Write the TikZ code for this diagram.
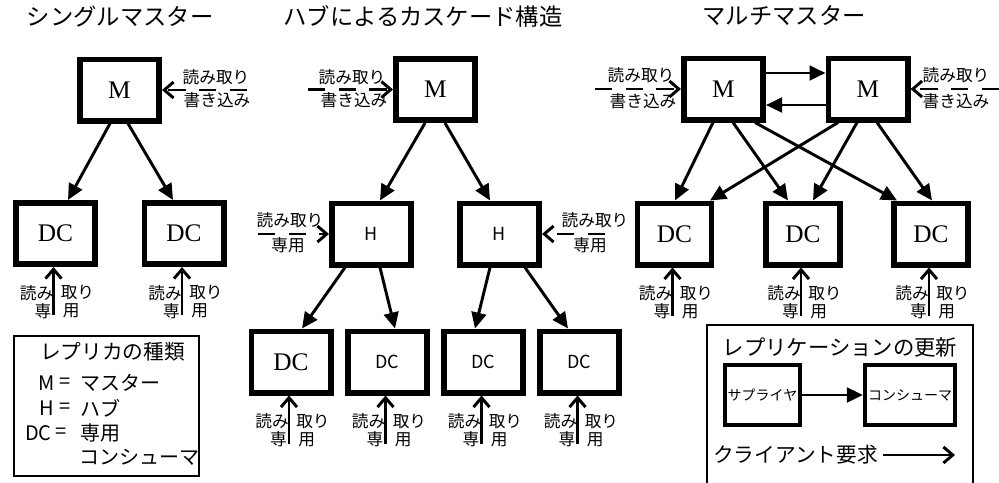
\documentclass[tikz,border=0pt]{standalone}
\usepackage{fontspec}
\newfontfamily\jp{Noto Sans CJK JP}
\newfontfamily\serf{Liberation Serif}
\usetikzlibrary{arrows.meta,calc}
\begin{document}
\begin{tikzpicture}[x=0.75pt,y=-0.75pt,
 bx/.style={draw,line width=4.25pt,minimum width=59.5pt,minimum height=46pt,inner sep=0pt},
 nbx/.style={bx,minimum width=55.5pt},
 ser/.style={font=\serf\fontsize{19}{21}\selectfont},
 ssf/.style={font=\jp\fontsize{13.5}{15}\selectfont},
 ttl/.style={font=\jp\fontsize{17.5}{20}\selectfont,inner sep=0pt},
 lbl/.style={font=\jp\fontsize{12.5}{14}\selectfont,inner sep=0pt},
 leg/.style={font=\jp\fontsize{15}{18}\selectfont,inner sep=0pt},
 sm/.style={font=\jp\fontsize{10.5}{12}\selectfont},
 rep/.style={line width=2.2pt,-{Triangle[length=12pt,width=11pt]}},
 cli/.style={line width=2.2pt,-{Straight Barb[length=7pt,width=12pt]}},
 dcli/.style={cli,dash pattern=on 13pt off 10pt},
]
\useasboundingbox (0,0) rectangle (999,482);

% titles
\node[ttl] (t1) at (120,17) {シングルマスター};
\node[ttl] (t2) at (423,16) {ハブによるカスケード構造};
\node[ttl] (t3) at (784,16) {マルチマスター};

% single master
\node[bx,ser] (sM) at (119.5,90) {M};
\node[bx,ser] (sD1) at (55.5,233.5) {DC};
\node[bx,ser] (sD2) at (184,233.5) {DC};
\draw[rep] ($(sM.south)+(-9.5,0)$) -- ($(sD1.north)+(12.5,0)$);
\draw[rep] ($(sM.south)+(8.5,0)$) -- ($(sD2.north)+(-11,0)$);
\coordinate (sMr) at (247,90);
\draw[dcli] (sMr) -- (sM.east);
\node[lbl] (sMt1) at (216,77) {読み取り};
\node[lbl] (sMt2) at (217,100) {書き込み};

% hub cascade
\node[bx,ser] (hM) at (435.5,89.5) {M};
\node[bx,ssf] (hH1) at (371.5,234) {H};
\node[bx,ssf] (hH2) at (499.5,234) {H};
\node[bx,ser] (hD1) at (291,362) {DC};
\node[bx,ssf] (hD2) at (387.5,362) {DC};
\node[bx,ssf] (hD3) at (483.5,362) {DC};
\node[bx,ssf] (hD4) at (579.5,362) {DC};
\draw[rep] ($(hM.south)+(-10.5,0)$) -- ($(hH1.north)+(8.5,0)$);
\draw[rep] ($(hM.south)+(9.5,0)$) -- ($(hH2.north)+(-9.5,0)$);
\draw[rep] ($(hH1.south)+(-26.5,0)$) -- ($(hD1.north)+(11,0)$);
\draw[rep] ($(hH1.south)+(8.5,0)$) -- ($(hD2.north)+(7.5,0)$);
\draw[rep] ($(hH2.south)+(-9.5,0)$) -- ($(hD3.north)+(-8.5,0)$);
\draw[rep] ($(hH2.south)+(25.5,0)$) -- ($(hD4.north)+(-11.5,0)$);
\coordinate (hMl) at (308,89.5);
\draw[dcli] (hMl) -- (hM.west);
\node[lbl] (hMt1) at (352,77) {読み取り};
\node[lbl] (hMt2) at (354,100) {書き込み};
\coordinate (hH1l) at (258,234);
\draw[dcli] (hH1l) -- (hH1.west);
\node[lbl] (hH1t1) at (290,220) {読み取り};
\node[lbl] (hH1t2) at (288,245) {専用};
\coordinate (hH2r) at (605,234);
\draw[dcli] (hH2r) -- (hH2.east);
\node[lbl] (hH2t1) at (595,220) {読み取り};
\node[lbl] (hH2t2) at (590,245) {専用};

% multi master
\node[bx,ser] (mM1) at (723.5,89) {M};
\node[bx,ser] (mM2) at (868,89) {M};
\node[nbx,ser] (mD1) at (674.5,234) {DC};
\node[nbx,ser] (mD2) at (803,234) {DC};
\node[nbx,ser] (mD3) at (931,234) {DC};
\draw[rep] ($(mM1.east)+(0,-16)$) -- ($(mM2.west)+(0,-16)$);
\draw[rep] ($(mM2.west)+(0,16)$) -- ($(mM1.east)+(0,16)$);
\draw[rep] ($(mM1.south)+(-10.5,0)$) -- ($(mD1.north)+(0.5,0)$);
\draw[rep] ($(mM1.south)+(9.5,0)$) -- ($(mD2.north)+(-15,0)$);
\draw[rep] ($(mM1.south)+(31.5,0)$) -- ($(mD3.north)+(-34,0)$);
\draw[rep] ($(mM2.south)+(-30,0)$) -- ($(mD1.north)+(35.5,0)$);
\draw[rep] ($(mM2.south)+(-11,0)$) -- ($(mD2.north)+(10,0)$);
\draw[rep] ($(mM2.south)+(9,0)$) -- ($(mD3.north)+(1,0)$);
\coordinate (mM1l) at (595,89);
\draw[dcli] (mM1l) -- (mM1.west);
\node[lbl] (mM1t1) at (641,75) {読み取り};
\node[lbl] (mM1t2) at (643,101) {書き込み};
\coordinate (mM2r) at (999,89);
\draw[dcli] (mM2r) -- (mM2.east);
\node[lbl] (mM2t1) at (956,75) {読み取り};
\node[lbl] (mM2t2) at (956,101) {書き込み};

% read-only client arrows under each DC
\foreach \d in {sD1,sD2,hD1,hD2,hD3,hD4,mD1,mD2,mD3}{
  \coordinate (\d-r) at ($(\d.south)+(-2,48)$);
  \draw[cli] (\d-r) -- ($(\d.south)+(-2,0)$);
  \node[lbl,anchor=east] (\d-a) at ($(\d.south)+(-2,26)$) {読み};
  \node[lbl,anchor=west] (\d-b) at ($(\d.south)+(5,26)$) {取り};
  \node[lbl,anchor=east] (\d-c) at ($(\d.south)+(-4,44)$) {専};
  \node[lbl,anchor=west] (\d-e) at ($(\d.south)+(7,44)$) {用};
}

% legend 1
\node[draw,line width=1.6pt,minimum width=138.75pt,minimum height=105pt] (leg1) at (106.5,406) {};
\node[leg,font=\jp\fontsize{15.5}{18}\selectfont] (lg0) at (112.5,352) {レプリカの種類};
\node[leg,anchor=east] (lgM) at (55,383) {M};
\node[leg] (lgMe) at (65,383) {=};
\node[leg,anchor=west] (lgMv) at (80,383) {マスター};
\node[leg,anchor=east] (lgH) at (54,408) {H};
\node[leg] (lgHe) at (65,408) {=};
\node[leg,anchor=west] (lgHv) at (80,408) {ハブ};
\node[leg,anchor=east] (lgD) at (52,433) {DC};
\node[leg] (lgDe) at (61,433) {=};
\node[leg,anchor=west] (lgDv) at (80,433) {専用};
\node[leg,anchor=west] (lgDv2) at (79,457) {コンシューマ};

% legend 2
\draw[line width=1.6pt] (707,490) -- (707,325) -- (973,325) -- (973,490);
\node[leg,font=\jp\fontsize{16}{18}\selectfont] (lr0) at (840,347) {レプリケーションの更新};
\node[bx,line width=3.2pt,minimum width=56.25pt,minimum height=45pt,sm] (sup) at (762.5,395) {サプライヤ};
\node[bx,line width=3.2pt,minimum width=67.5pt,minimum height=45pt,sm] (con) at (910,395) {コンシューマ};
\draw[rep] (sup) -- (con);
\node[leg,anchor=west,font=\jp\fontsize{15.5}{18}\selectfont] (cl) at (713,455) {クライアント要求};
\coordinate (cls) at (883,455);
\coordinate (cle) at (955,455);
\draw[cli] (cls) -- (cle);
\end{tikzpicture}
\end{document}
